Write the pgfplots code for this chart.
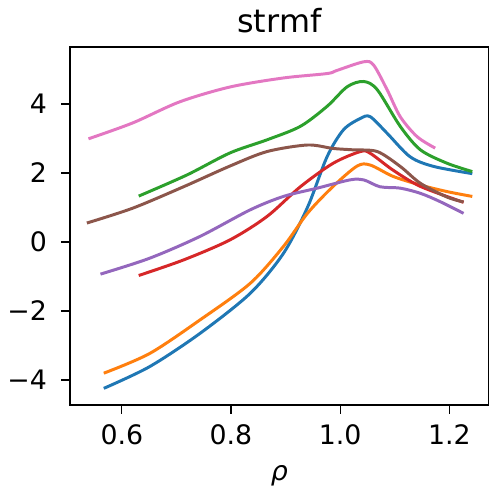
\documentclass[border=0pt]{standalone}
\usepackage{fontspec}
\setmainfont{DejaVu Sans}
\usepackage{pgfplots}
\pgfplotsset{compat=1.18}
\definecolor{tabblue}{HTML}{1F77B4}
\definecolor{taborange}{HTML}{FF7F0E}
\definecolor{tabgreen}{HTML}{2CA02C}
\definecolor{tabred}{HTML}{D62728}
\definecolor{tabpurple}{HTML}{9467BD}
\definecolor{tabbrown}{HTML}{8C564B}
\definecolor{tabpink}{HTML}{E377C2}
\begin{document}
\begin{tikzpicture}
\begin{axis}[
    name=ax,
    scale only axis,
    width=197pt, height=168.4pt,
    xmin=0.505, xmax=1.272,
    ymin=-4.72, ymax=5.65,
    xtick={0.6,0.8,1.0,1.2},
    xticklabels={0.6,0.8,1.0,1.2},
    ytick={-4,-2,0,2,4},
    yticklabels={−4,−2,0,2,4},
    tick align=outside,
    xtick pos=bottom, ytick pos=left,
    major tick length=4.2pt,
    tick style={black, line width=0.6pt},
    axis line style={line width=0.6pt},
    ticklabel style={font=\fontsize{12.6}{14}\selectfont},
    xticklabel style={yshift=-1.3pt},
    yticklabel style={xshift=-3.1pt},
    /pgf/number format/assume math mode=true,
    xlabel={\textit{ρ}},
    xlabel style={font=\fontsize{12.6}{14}\selectfont, yshift=-3pt},
    title={strmf},
    title style={font=\fontsize{15}{16}\selectfont, yshift=-3pt},
    every axis plot/.append style={line width=1.4pt, smooth, no markers},
]
% blue
\addplot[tabblue] coordinates {
 (0.567,-4.24) (0.651,-3.61) (0.743,-2.65) (0.835,-1.49) (0.896,-0.33)
 (0.940,1.00) (0.976,2.47) (1.006,3.25) (1.037,3.58) (1.055,3.63)
 (1.086,3.15) (1.128,2.47) (1.171,2.19) (1.242,1.98)};
% orange
\addplot[taborange] coordinates {
 (0.567,-3.80) (0.651,-3.23) (0.743,-2.26) (0.835,-1.20) (0.896,-0.13)
 (0.940,0.83) (0.987,1.61) (1.031,2.20) (1.055,2.23) (1.097,1.90)
 (1.147,1.65) (1.196,1.46) (1.242,1.32)};
% green
\addplot[tabgreen] coordinates {
 (0.631,1.33) (0.719,1.94) (0.798,2.58) (0.866,2.96) (0.927,3.35)
 (0.976,3.93) (1.013,4.50) (1.043,4.65) (1.068,4.41) (1.110,3.35)
 (1.147,2.67) (1.196,2.28) (1.242,2.04)};
% red
\addplot[tabred] coordinates {
 (0.631,-0.97) (0.713,-0.52) (0.798,0.06) (0.866,0.74) (0.927,1.60)
 (0.987,2.28) (1.037,2.62) (1.055,2.57) (1.097,2.08) (1.147,1.61)
 (1.226,1.15)};
% purple
\addplot[tabpurple] coordinates {
 (0.561,-0.93) (0.651,-0.47) (0.743,0.16) (0.835,0.93) (0.896,1.32)
 (0.958,1.56) (1.018,1.80) (1.043,1.80) (1.073,1.60) (1.110,1.56)
 (1.147,1.41) (1.183,1.17) (1.226,0.83)};
% brown
\addplot[tabbrown] coordinates {
 (0.536,0.55) (0.620,0.98) (0.713,1.60) (0.798,2.20) (0.866,2.62)
 (0.940,2.81) (0.987,2.71) (1.024,2.67) (1.068,2.62) (1.110,2.19)
 (1.147,1.70) (1.196,1.30) (1.226,1.16)};
% pink
\addplot[tabpink] coordinates {
 (0.539,2.99) (0.620,3.45) (0.706,4.06) (0.798,4.49) (0.895,4.75)
 (0.976,4.88) (0.994,4.97) (1.043,5.22) (1.061,5.13) (1.086,4.41)
 (1.110,3.63) (1.141,3.05) (1.174,2.72)};
\end{axis}
\pgfresetboundingbox
\path[use as bounding box] ([xshift=-32.9pt,yshift=-41.9pt]ax.south west)
  rectangle ([yshift=22.1pt]ax.north east);
\end{tikzpicture}
\end{document}
